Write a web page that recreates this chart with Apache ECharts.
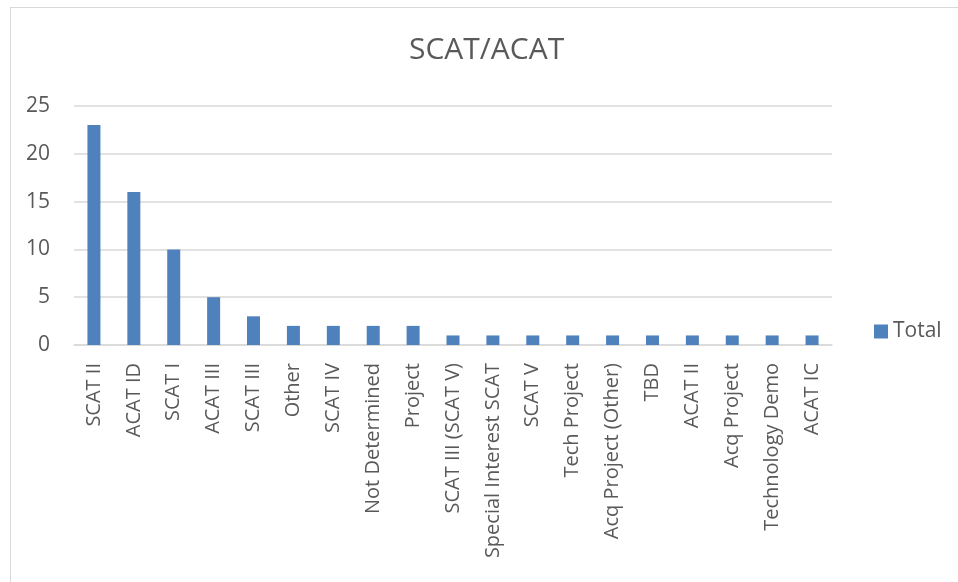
<!DOCTYPE html>
<html>
<head>
<meta charset="utf-8">
<script src="https://cdn.jsdelivr.net/npm/echarts@6/dist/echarts.min.js"></script>
<style>
html,body{margin:0;padding:0;background:#fff;}
#frame{position:absolute;left:10px;top:7px;width:960px;height:590px;border:1px solid #d9d9d9;box-sizing:border-box;}
#chart{position:absolute;left:0;top:0;width:958px;height:582px;}
</style>
</head>
<body>
<div id="frame"></div>
<div id="chart"></div>
<script>
var categories = ["SCAT II","ACAT ID","SCAT I","ACAT III","SCAT III","Other","SCAT IV","Not Determined","Project","SCAT III (SCAT V)","Special Interest SCAT","SCAT V","Tech Project","Acq Project (Other)","TBD","ACAT II","Acq Project","Technology Demo","ACAT IC"];
var totals = [23,16,10,5,3,2,2,2,2,1,1,1,1,1,1,1,1,1,1];
var yTicks = {min:0, max:25, interval:5};

var font = "'Open Sans', 'Liberation Sans', sans-serif";
var chart = echarts.init(document.getElementById('chart'), null, {renderer:'canvas'});
chart.setOption({
  animation:false,
  backgroundColor:'transparent',
  title:{text:'SCAT/ACAT', left:404, top:30, textStyle:{fontFamily:font, fontSize:30, fontWeight:'normal', color:'#595959'}},
  legend:{data:['Total'], left:869, top:316, orient:'vertical', itemWidth:14, itemHeight:14, itemGap:5, icon:'rect',
    textStyle:{fontFamily:font, fontSize:21, color:'#595959'}},
  grid:{left:74, right:126, top:106, bottom:237, containLabel:false},
  xAxis:{type:'category', data:categories,
    axisLine:{show:true, lineStyle:{color:'#d9d9d9', width:1.5}},
    axisTick:{show:false},
    axisLabel:{rotate:90, interval:0, margin:18, fontFamily:font, fontSize:20, color:'#595959'}},
  yAxis:{type:'value', min:yTicks.min, max:yTicks.max, interval:yTicks.interval,
    axisLine:{show:false}, axisTick:{show:false},
    splitLine:{lineStyle:{color:'#d9d9d9', width:1.5}},
    axisLabel:{margin:24, fontFamily:font, fontSize:21, color:'#595959'}},
  series:[{name:'Total', type:'bar', data:totals, barWidth:13, itemStyle:{color:'#4f81bd'}}]
});
</script>
</body>
</html>
